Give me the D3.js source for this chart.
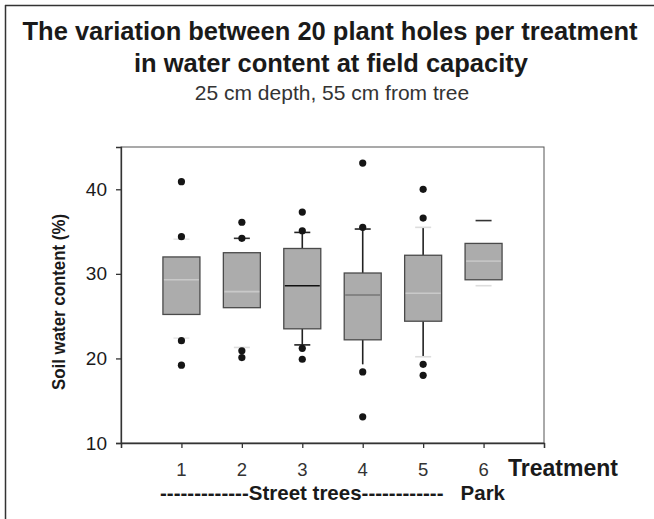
<!DOCTYPE html>
<html>
<head>
<meta charset="utf-8" />
<title>Soil water content</title>
<script src="https://d3js.org/d3.v7.min.js"></script>
<style>
body{
    margin:0;
    background:#fff;
}
text{
    font-family:"Liberation Sans", Arial, sans-serif;
    fill:#1a1a1a;
}
</style>
</head>
<body>
<div id="chart"></div>
<script>
// values (soil water content, %)
var treatments = [1, 2, 3, 4, 5, 6];
var tickLabels = ["1", "2", "3", "4", "5", "6"];
var yTicks = [10, 20, 30, 40];
var q1 = [25.2, 26.0, 23.5, 22.2, 24.4, 29.3];
var medians = [29.3, 27.9, 28.6, 27.5, 27.7, 31.5];
var q3 = [32.0, 32.5, 33.0, 30.1, 32.2, 33.6];
var whiskerLow = [22.4, 21.3, 21.6, 19.3, 20.2, 28.6];
var whiskerHigh = [34.1, 34.2, 34.9, 35.3, 35.5, 36.3];
var outliers = [
    [40.9, 34.4, 22.1, 19.2],
    [36.1, 34.2, 20.9, 20.1],
    [37.3, 35.1, 21.2, 19.9],
    [43.1, 35.5, 18.4, 13.1],
    [40.0, 36.6, 19.3, 18.0],
    []
];

// how each box shows up in the scan
var medianColor = ["#c9c9c9", "#c9c9c9", "#111", "#777", "#c9c9c9", "#c4c4c4"];
var showStem = [false, false, true, true, true, false];
var capHigh = ["#e8e8e8", "#333", "#222", "#222", "#ddd", "#333"];
var capLow = ["#e8e8e8", "#ddd", "#222", "none", "#ddd", "#ddd"];

var W = 654, H = 519;
var margin = {top: 147, right: 110, bottom: 76, left: 121};
var width = W - margin.left - margin.right,
    height = H - margin.top - margin.bottom;

var svg = d3.select("#chart").append("svg")
    .attr("width", W)
    .attr("height", H);

// scanned page border (top and left only)
svg.append("line").attr("x1", 5).attr("x2", W).attr("y1", 5.5).attr("y2", 5.5)
    .attr("stroke", "#333").attr("stroke-width", 1.5);
svg.append("line").attr("x1", 5.5).attr("x2", 5.5).attr("y1", 5).attr("y2", H)
    .attr("stroke", "#333").attr("stroke-width", 1.5);

// titles
svg.append("text").attr("x", 330).attr("y", 40)
    .attr("text-anchor", "middle")
    .style("font-size", "25.5px").style("font-weight", "bold")
    .text("The variation between 20 plant holes per treatment");
svg.append("text").attr("x", 331).attr("y", 72)
    .attr("text-anchor", "middle")
    .style("font-size", "25.5px").style("font-weight", "bold")
    .text("in water content at field capacity");
svg.append("text").attr("x", 332).attr("y", 100)
    .attr("text-anchor", "middle")
    .style("font-size", "21px")
    .style("fill", "#333")
    .text("25 cm depth, 55 cm from tree");

var g = svg.append("g")
    .attr("transform", "translate(" + margin.left + "," + margin.top + ")");

var x = d3.scaleLinear().domain([0, 7]).range([0, width]);
var y = d3.scaleLinear().domain([10, 45]).range([height, 0]);

// plot frame (top and right)
g.append("rect")
    .attr("x", 0).attr("y", 0)
    .attr("width", width).attr("height", height)
    .attr("fill", "none")
    .attr("stroke", "#555")
    .attr("stroke-width", 1);

// axes
var xAxis = g.append("g")
    .attr("transform", "translate(0," + height + ")")
    .call(d3.axisBottom(x).tickValues([0, 1, 2, 3, 4, 5, 6, 7]).tickSize(5).tickFormat(""));
xAxis.selectAll("line, path").attr("stroke", "#333").attr("stroke-width", 1.3);

var yAxis = g.append("g")
    .call(d3.axisLeft(y).tickValues(yTicks).tickSize(5).tickPadding(9));
yAxis.selectAll("line, path").attr("stroke", "#333").attr("stroke-width", 1.3);
yAxis.selectAll("text")
    .style("font-size", "19px")
    .style("font-family", "'Liberation Sans', Arial, sans-serif")
    .attr("fill", "#333");

// x tick labels 1..6
g.selectAll(".xlab")
    .data(treatments)
    .enter().append("text")
    .attr("class", "xlab")
    .attr("x", function(d) { return x(d); })
    .attr("y", height + 33)
    .attr("text-anchor", "middle")
    .style("font-size", "18.5px")
    .style("fill", "#333")
    .text(function(d, i) { return tickLabels[i]; });

svg.append("text")
    .attr("x", 508).attr("y", margin.top + height + 33)
    .style("font-size", "23px").style("font-weight", "bold")
    .text("Treatment");

svg.append("text")
    .attr("x", 160).attr("y", margin.top + height + 57)
    .style("font-size", "20.5px").style("font-weight", "bold")
    .style("white-space", "pre")
    .text("-------------Street trees------------   Park");

svg.append("text")
    .attr("transform", "translate(65,302) rotate(-90)")
    .attr("text-anchor", "middle")
    .attr("textLength", 176)
    .attr("lengthAdjust", "spacingAndGlyphs")
    .style("font-size", "19px").style("font-weight", "bold")
    .text("Soil water content (%)");

// boxes
var boxW = 37;
var idx = d3.range(treatments.length);
var boxes = g.selectAll(".box")
    .data(idx)
    .enter().append("g")
    .attr("class", "box");

var stems = boxes.filter(function(i) { return showStem[i]; });

stems.append("line")
    .attr("x1", function(i) { return x(treatments[i]); })
    .attr("x2", function(i) { return x(treatments[i]); })
    .attr("y1", function(i) { return y(whiskerHigh[i]); })
    .attr("y2", function(i) { return y(q3[i]); })
    .attr("stroke", "#222").attr("stroke-width", 1.6);

stems.append("line")
    .attr("x1", function(i) { return x(treatments[i]); })
    .attr("x2", function(i) { return x(treatments[i]); })
    .attr("y1", function(i) { return y(q1[i]); })
    .attr("y2", function(i) { return y(whiskerLow[i]); })
    .attr("stroke", "#222").attr("stroke-width", 1.6);

boxes.append("line")
    .attr("x1", function(i) { return x(treatments[i]) - 8; })
    .attr("x2", function(i) { return x(treatments[i]) + 8; })
    .attr("y1", function(i) { return y(whiskerHigh[i]); })
    .attr("y2", function(i) { return y(whiskerHigh[i]); })
    .attr("stroke", function(i) { return capHigh[i]; })
    .attr("stroke-width", 1.6);

boxes.append("line")
    .attr("x1", function(i) { return x(treatments[i]) - 8; })
    .attr("x2", function(i) { return x(treatments[i]) + 8; })
    .attr("y1", function(i) { return y(whiskerLow[i]); })
    .attr("y2", function(i) { return y(whiskerLow[i]); })
    .attr("stroke", function(i) { return capLow[i]; })
    .attr("stroke-width", 1.6);

boxes.append("rect")
    .attr("x", function(i) { return x(treatments[i]) - boxW / 2; })
    .attr("y", function(i) { return y(q3[i]); })
    .attr("width", boxW)
    .attr("height", function(i) { return y(q1[i]) - y(q3[i]); })
    .attr("fill", "#acacac")
    .attr("stroke", "#4a4a4a")
    .attr("stroke-width", 1.3);

boxes.append("line")
    .attr("x1", function(i) { return x(treatments[i]) - boxW / 2 + 1; })
    .attr("x2", function(i) { return x(treatments[i]) + boxW / 2 - 1; })
    .attr("y1", function(i) { return y(medians[i]); })
    .attr("y2", function(i) { return y(medians[i]); })
    .attr("stroke", function(i) { return medianColor[i]; })
    .attr("stroke-width", 1.6);

// outliers
boxes.each(function(i) {
    d3.select(this).selectAll("circle")
        .data(outliers[i])
        .enter().append("circle")
        .attr("cx", x(treatments[i]))
        .attr("cy", function(v) { return y(v); })
        .attr("r", 3.6)
        .attr("fill", "#151515");
});
</script>
</body>
</html>
